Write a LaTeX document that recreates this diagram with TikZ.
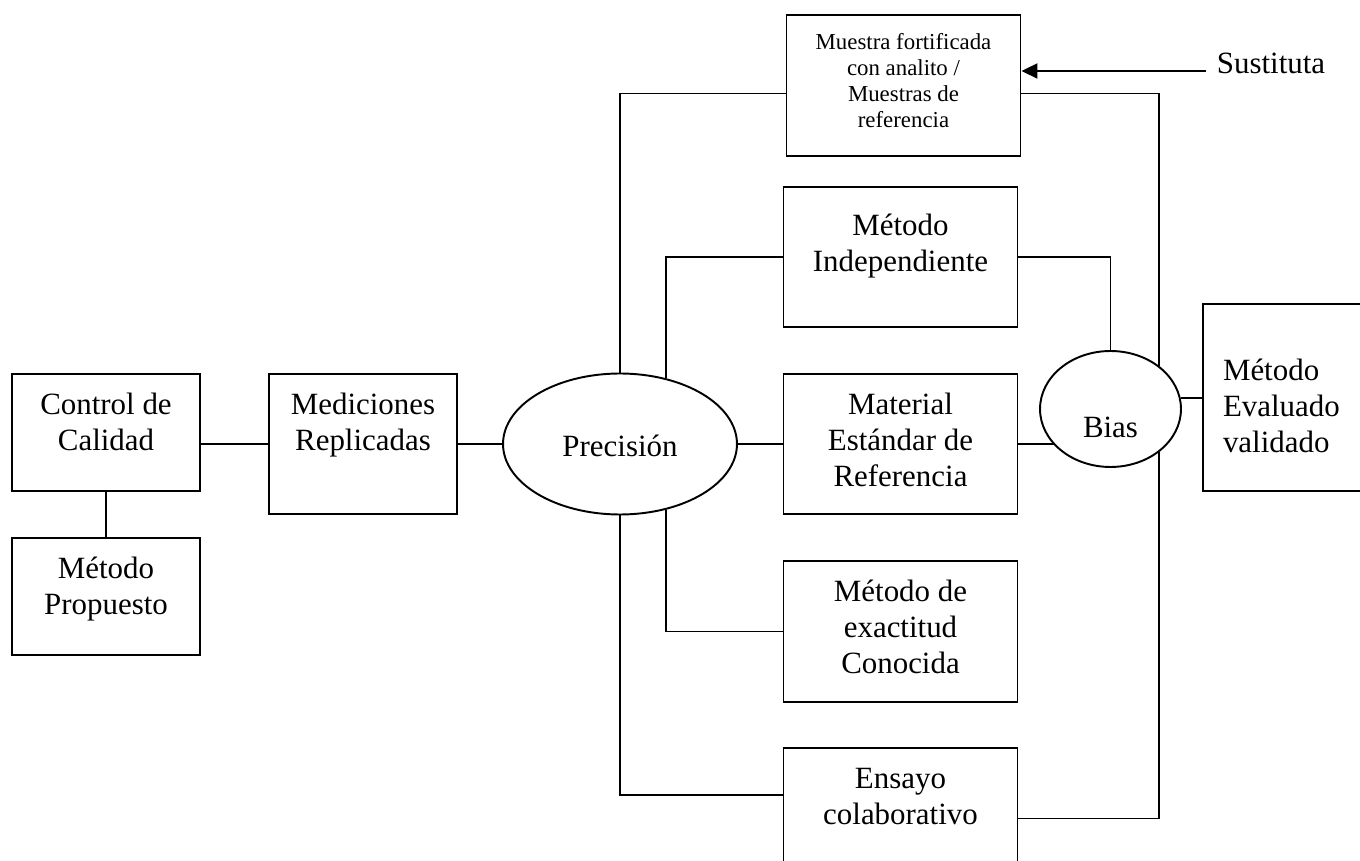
\documentclass[tikz,border=0pt]{standalone}
\usepackage{fontspec}
\setmainfont{Liberation Serif}
\usetikzlibrary{shapes.geometric, arrows.meta}
\tikzset{
  box/.style n args={3}{draw, inner sep=0pt,
    execute at begin node={\begin{minipage}[c][#2][t]{#1}\centering\rule{0pt}{#3}},
    execute at end node={\end{minipage}}},
  leftbox/.style n args={3}{draw, inner sep=0pt,
    execute at begin node={\begin{minipage}[c][#2][t]{#1}\raggedright\leftskip=0.4cm\rule{0pt}{#3}},
    execute at end node={\end{minipage}}},
  oval/.style={draw, ellipse, inner sep=0pt},
}
\begin{document}
\begin{tikzpicture}[x=0.02cm, y=-0.02cm, line width=1.1pt, font=\fontsize{17.6}{20.5}\selectfont]
	\useasboundingbox (0,0) rectangle (1360,861);
	\clip (0,0) rectangle (1360,861);
	% Left part: quality control, proposed method, replicate measurements
	\node[box={3.76cm}{2.34cm}{23.3pt}] (ctrl) at (106,432.5) {Control de\\Calidad};
	\node[box={3.76cm}{2.34cm}{23.3pt}] (prop) at (106,596.5) {Método\\Propuesto};
	\node[box={3.76cm}{2.80cm}{23.3pt}] (med) at (363,444) {Mediciones\\Replicadas};
	\node[oval, minimum width=4.68cm, minimum height=2.82cm] (prec) at (620,444) {\raisebox{-7.2pt}[0pt][0pt]{Precisión}};
	
	% Middle column of boxes
	\node[box={4.68cm}{2.82cm}{19.9pt}, font=\fontsize{13}{14.8}\selectfont] (muestra) at (903.5,85.5) {Muestra fortificada\\con analito /\\Muestras de\\referencia};
	\node[box={4.68cm}{2.80cm}{27.6pt}] (indep) at (900.5,257) {Método\\Independiente};
	\node[box={4.68cm}{2.80cm}{23.3pt}] (mat) at (900.5,444) {Material\\Estándar de\\Referencia};
	\node[box={4.68cm}{2.82cm}{23.3pt}] (exact) at (900.5,631.5) {Método de\\exactitud\\Conocida};
	\node[box={4.68cm}{2.82cm}{23.3pt}] (ensayo) at (900.5,818.5) {Ensayo\\colaborativo};
	
	% Right part
	\node[oval, minimum width=2.82cm, minimum height=2.32cm] (bias) at (1110.5,409) {\raisebox{-16pt}[0pt][0pt]{Bias}};
	\node[leftbox={3.94cm}{3.74cm}{43.5pt}] (eval) at (1301.5,397.5) {Método\\Evaluado\\validado};
	\node[inner sep=5.7pt] (sust) at (1271,63) {Sustituta};
	
	% Helper points for the offset connectors
	\coordinate (mw) at ([yshift=-0.16cm]muestra.west);
	\coordinate (me) at ([yshift=-0.16cm]muestra.east);
	\coordinate (ensw) at ([yshift=0.47cm]ensayo.west);
	\coordinate (sustin) at ([yshift=-0.16cm]sust.west);
	
	% Connectors
	\draw (ctrl) -- (prop);
	\draw (med.west) -- (med.west -| ctrl.east);
	\draw (med.east) -- (med.east -| prec.west);
	\draw (prec.north) |- (mw);
	\draw (prec.55) |- (indep.west);
	\draw (prec.east) -- (prec.east -| mat.west);
	\draw (prec.-55) |- (exact.west);
	\draw (prec.south) |- (ensw);
	\draw (indep.east) -| (bias.north);
	\draw (mat.east) -- (mat.east -| bias.212);
	\draw (me) -| (bias.42);
	\draw (ensayo.east) -| (bias.-42);
	\draw (bias.9) -- (bias.9 -| eval.west);
	\draw[-{Triangle[length=0.32cm, width=0.3cm]}] (sustin) -- (sustin -| muestra.east);
\end{tikzpicture}
\end{document}
